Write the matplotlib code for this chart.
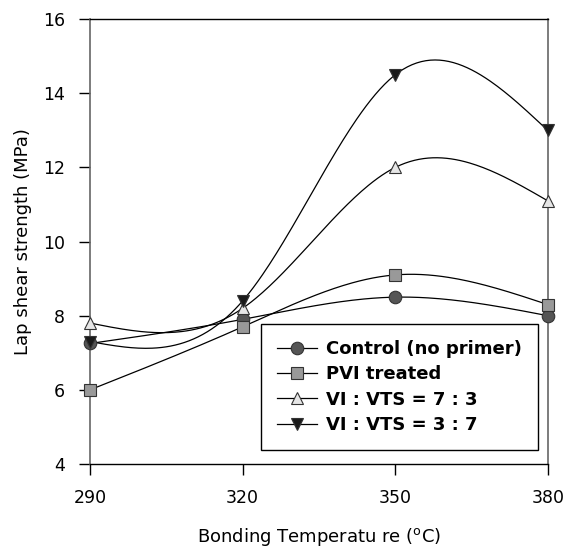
import numpy as np
import matplotlib
matplotlib.use('Agg')
import matplotlib.pyplot as plt

plt.rcParams['font.family'] = ['DejaVu Sans']

# data
temps = [290, 320, 350, 380]
control = [7.25, 7.9, 8.5, 8.0]
pvi = [6.0, 7.7, 9.1, 8.3]
vi_73 = [7.8, 8.2, 12.0, 11.1]
vi_37 = [7.3, 8.4, 14.5, 13.0]
labels = ['Control (no primer)', 'PVI treated', 'VI : VTS = 7 : 3', 'VI : VTS = 3 : 7']


def natural_spline(x, y, n=200):
    # natural cubic spline, hand written (no scipy)
    x = np.asarray(x, float)
    y = np.asarray(y, float)
    k = len(x)
    h = np.diff(x)
    A = np.zeros((k, k))
    b = np.zeros(k)
    A[0, 0] = 1
    A[-1, -1] = 1
    for i in range(1, k - 1):
        A[i, i - 1] = h[i - 1]
        A[i, i] = 2 * (h[i - 1] + h[i])
        A[i, i + 1] = h[i]
        b[i] = 6 * ((y[i + 1] - y[i]) / h[i] - (y[i] - y[i - 1]) / h[i - 1])
    M = np.linalg.solve(A, b)
    xs = np.linspace(x[0], x[-1], n)
    ys = np.empty_like(xs)
    for j, xv in enumerate(xs):
        i = min(np.searchsorted(x, xv, side='right') - 1, k - 2)
        t1 = x[i + 1] - xv
        t0 = xv - x[i]
        ys[j] = (M[i] * t1**3 + M[i + 1] * t0**3) / (6 * h[i]) \
            + (y[i] / h[i] - M[i] * h[i] / 6) * t1 \
            + (y[i + 1] / h[i] - M[i + 1] * h[i] / 6) * t0
    return xs, ys


fig = plt.figure(figsize=(5.67, 5.49), dpi=100)
ax = fig.add_axes([0.159, 0.155, 0.807, 0.81])

series = [control, pvi, vi_73, vi_37]
markers = ['o', 's', '^', 'v']
fills = ['#555555', '#999999', '#e6e6e6', '#1a1a1a']

for vals, m, c, lab in zip(series, markers, fills, labels):
    xs, ys = natural_spline(temps, vals)
    ax.plot(xs, ys, color='black', lw=0.9, zorder=2)
    ax.plot(temps, vals, ls='none', marker=m, ms=9, mfc=c, mec='#333333',
            mew=0.8, zorder=3, clip_on=False)
    ax.plot([], [], color='black', lw=0.9, marker=m, ms=9, mfc=c,
            mec='#333333', mew=0.8, label=lab)

ax.set_xlim(290, 380)
ax.set_ylim(4, 16)
ax.set_xticks(temps)
ax.set_yticks(range(4, 17, 2))
ax.tick_params(direction='out', length=8, width=1, labelsize=12.5, pad=10)
for s in ['left', 'right']:
    ax.spines[s].set_color('#666666')
    ax.spines[s].set_linewidth(1.2)
for s in ['top', 'bottom']:
    ax.spines[s].set_linewidth(1.0)

ax.set_xlabel('Bonding Temperatu re ($^{\\rm o}$C)', fontsize=13, labelpad=14)
ax.set_ylabel('Lap shear strength (MPa)', fontsize=13, labelpad=8)

leg = ax.legend(loc='lower right', bbox_to_anchor=(0.978, 0.031),
                prop={'weight': 'bold', 'size': 13},
                fancybox=False, edgecolor='black', framealpha=1,
                handlelength=2.2, handletextpad=0.5, borderpad=0.9,
                labelspacing=0.4, borderaxespad=0)
leg.get_frame().set_linewidth(1.0)

fig.savefig('out.png', dpi=100)
